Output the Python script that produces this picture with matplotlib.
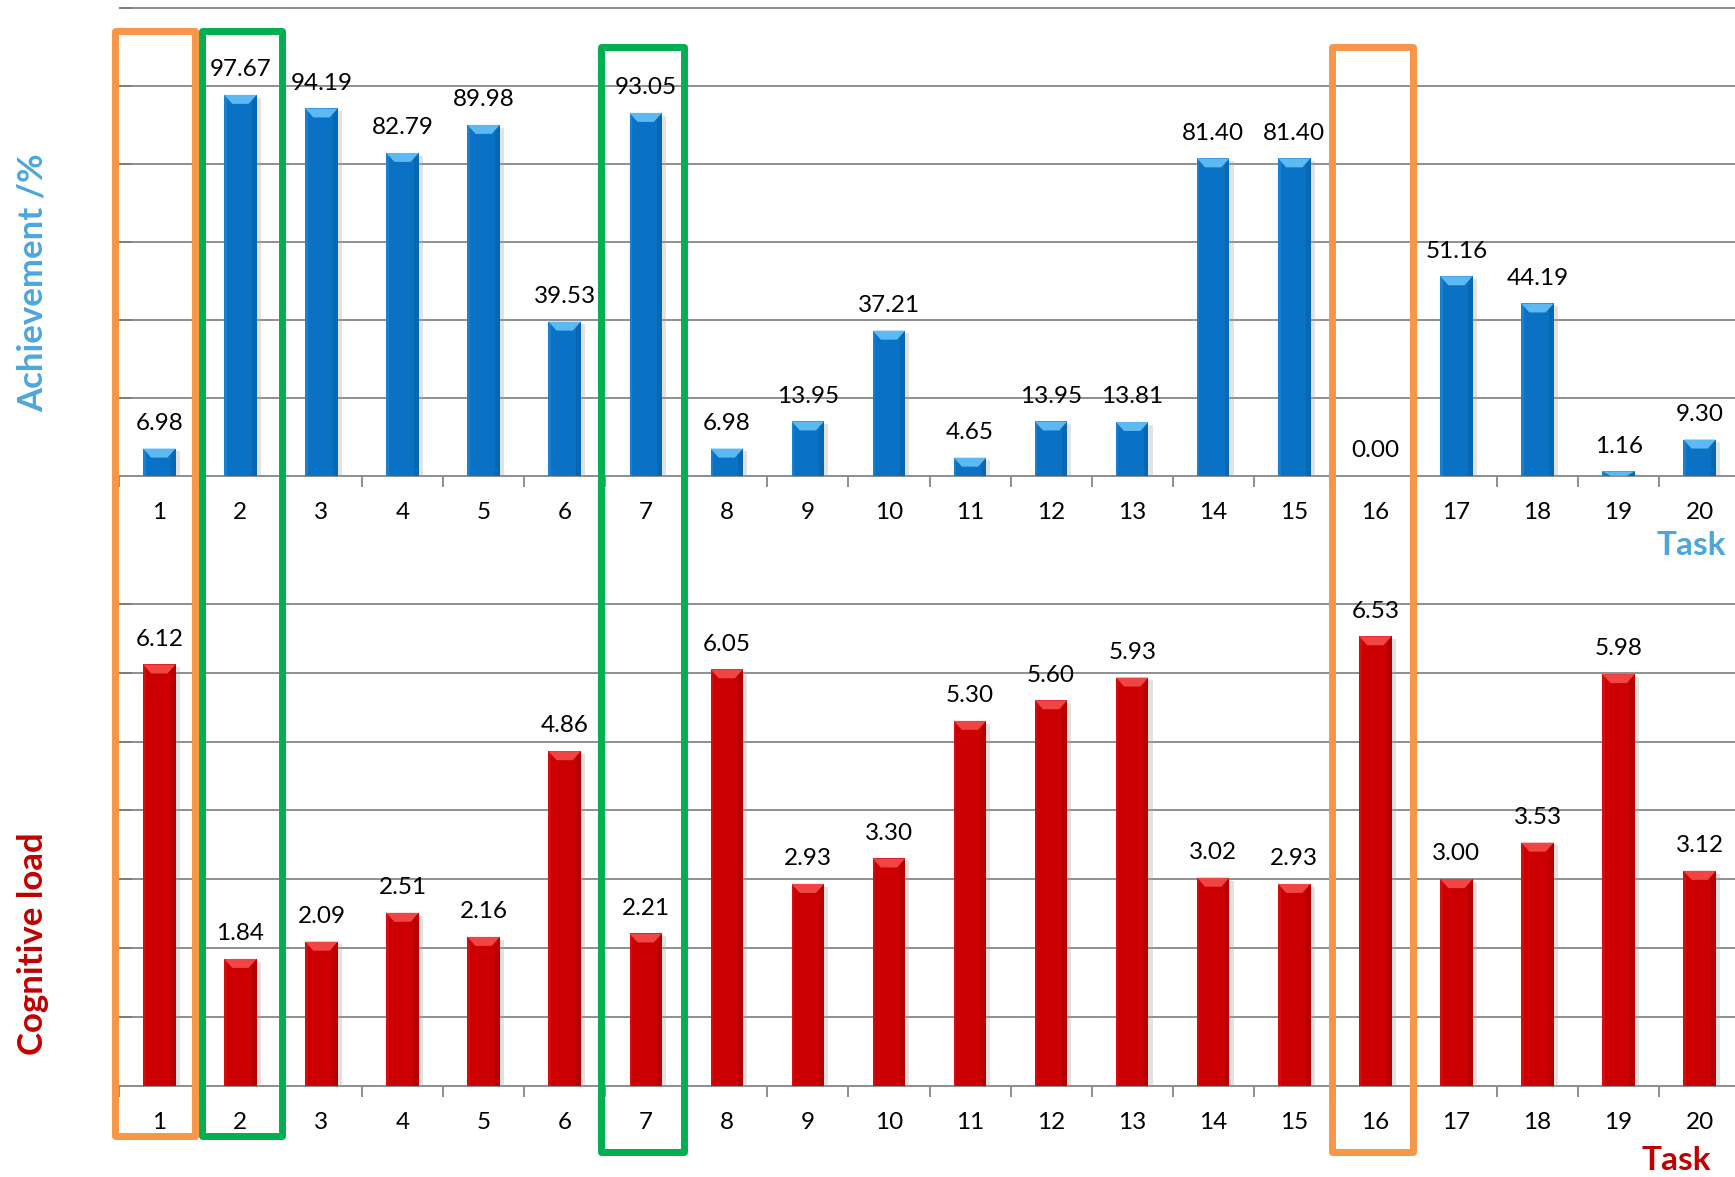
import matplotlib
matplotlib.use("Agg")
import matplotlib.pyplot as plt
from matplotlib.patches import Rectangle, Polygon
from matplotlib.transforms import blended_transform_factory
import matplotlib.patheffects as pe

# ---- data ----
tasks = [str(i) for i in range(1, 21)]
achievement = [6.98, 97.67, 94.19, 82.79, 89.98, 39.53, 93.05, 6.98, 13.95, 37.21,
               4.65, 13.95, 13.81, 81.40, 81.40, 0.00, 51.16, 44.19, 1.16, 9.30]
cognitive_load = [6.12, 1.84, 2.09, 2.51, 2.16, 4.86, 2.21, 6.05, 2.93, 3.30,
                  5.30, 5.60, 5.93, 3.02, 2.93, 6.53, 3.00, 3.53, 5.98, 3.12]
highlight_tasks = ["1", "2", "7", "16"]
highlight_kinds = ["orange", "green", "green", "orange"]

plt.rcParams['font.family'] = ['Lato', 'DejaVu Sans']

W, H = 1735, 1177
fig = plt.figure(figsize=(W / 100, H / 100), dpi=100)

blue_main, blue_dark, blue_light = '#0A72C4', '#005396', '#5DB9F2'
red_main, red_dark, red_light = '#CC0000', '#8E0000', '#F04545'
grid_c = '#8F8F8F'

L, R = 118.8, 1740.2
ax1 = fig.add_axes([L / W, 1 - 475.8 / H, (R - L) / W, 471.9 / H])
ax2 = fig.add_axes([L / W, 1 - 1085.5 / H, (R - L) / W, 485.0 / H])

x = list(range(len(tasks)))
BW = 0.40


def draw_panel(ax, vals, ymax, step, main, dark, light, bevel_px, ppu):
    ax.set_xlim(-0.5, len(vals) - 0.5)
    ax.set_ylim(0, ymax)
    ax.set_yticks([step * k for k in range(int(round(ymax / step)) + 1) if step * k <= ymax + 1e-9])
    ax.yaxis.grid(True, color=grid_c, lw=1.4)
    ax.set_axisbelow(True)
    for s in ['top', 'right', 'left']:
        ax.spines[s].set_visible(False)
    ax.spines['bottom'].set_color(grid_c)
    ax.spines['bottom'].set_linewidth(1.4)
    ax.tick_params(axis='y', direction='in', length=9, color='#7A7A7A', width=1.2,
                   labelleft=False)
    ax.set_xticks([i - 0.5 for i in range(len(vals) + 1)])
    ax.set_xticklabels([])
    ax.set_xticks(x, minor=True)
    ax.set_xticklabels(tasks, minor=True)
    ax.tick_params(axis='x', which='major', direction='out', length=8, color=grid_c, width=1.4)
    ax.tick_params(axis='x', which='minor', length=0, pad=19, labelsize=17.5)
    ax.bar(x, vals, width=BW, color=main, zorder=3,
           path_effects=[pe.SimplePatchShadow(offset=(3, -2), shadow_rgbFace='#A0A0A0', alpha=0.3),
                         pe.Normal()])
    bev = bevel_px / ppu
    for xi, v in zip(x, vals):
        if v <= 0:
            continue
        rs = 0.06
        ax.add_patch(Rectangle((xi + BW / 2 - rs, 0), rs, v, color=dark, zorder=3.5, lw=0, alpha=0.35))
        ax.add_patch(Rectangle((xi - BW / 2, 0), 0.03, v, color=light, zorder=3.5, lw=0, alpha=0.2))
        b = min(bev, v)
        ax.add_patch(Polygon([(xi - BW / 2, v), (xi + BW / 2, v),
                              (xi + BW / 2 - 0.1, v - b), (xi - BW / 2 + 0.1, v - b)],
                             closed=True, color=light, zorder=4, lw=0))
    for xi, v in zip(x, vals):
        ax.annotate(f"{v:.2f}", (xi, v), xytext=(0, 13.5), textcoords='offset points',
                    ha='center', va='baseline', fontsize=17.5, color='black')


draw_panel(ax1, achievement, 121, 20, blue_main, blue_dark, blue_light, 9, 3.9)
draw_panel(ax2, cognitive_load, 7.05, 1, red_main, red_dark, red_light, 9, 68.79)

# axis titles
fig.text(33 / W, 1 - 283 / H, 'Achievement /%', rotation=90, ha='center', va='center',
         fontsize=25, fontweight='bold', color='#4EA6DC')
fig.text(33 / W, 1 - 943.5 / H, 'Cognitive load', rotation=90, ha='center', va='center',
         fontsize=25, fontweight='bold', color='#C00000')
fig.text(1691 / W, 1 - 545.5 / H, 'Task', ha='center', va='center',
         fontsize=24, fontweight='bold', color='#4EA6DC')
fig.text(1676 / W, 1 - 1161 / H, 'Task', ha='center', va='center',
         fontsize=24, fontweight='bold', color='#C00000')

# highlight boxes spanning both panels (layout: x extents relative to task centre, y in px)
box_colors = {'orange': '#F79646', 'green': '#00B050'}
box_x = {'1': (-0.553, 0.434), '2': (-0.468, 0.519), '7': (-0.546, 0.466), '16': (-0.529, 0.470)}
box_y = {'1': (30.5, 1135.5), '2': (30.5, 1135.5), '7': (46.5, 1151.5), '16': (46.5, 1151.5)}
trans = blended_transform_factory(ax1.transData, fig.transFigure)
for t, kind in zip(highlight_tasks, highlight_kinds):
    i = tasks.index(t)
    ytop, ybot = box_y[t]
    dx0, dx1 = box_x[t]
    y0 = 1 - ybot / H
    y1 = 1 - ytop / H
    r = Rectangle((i + dx0, y0), dx1 - dx0, y1 - y0, fill=False, ec=box_colors[kind], lw=5.0,
                  joinstyle='round', transform=trans, clip_on=False, zorder=10)
    fig.add_artist(r)

fig.savefig('out.png', dpi=100, facecolor='white')
